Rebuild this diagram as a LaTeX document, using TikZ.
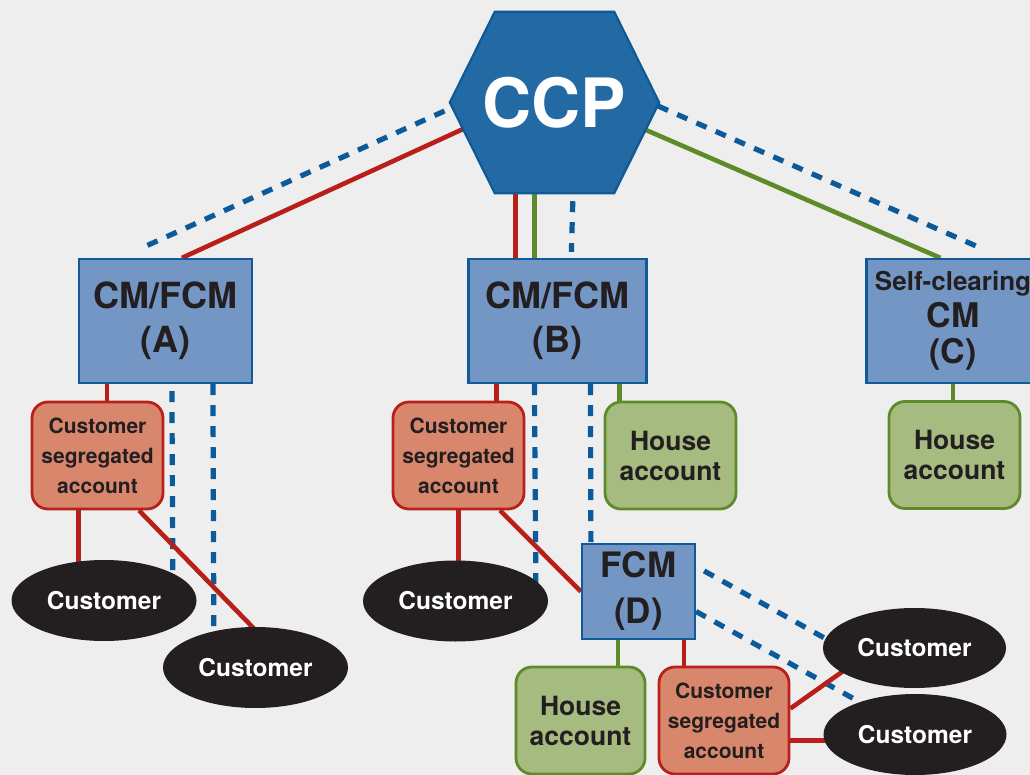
\documentclass[tikz,border=0pt]{standalone}
\usepackage{fontspec}
\setmainfont{TeX Gyre Heros}
\usetikzlibrary{calc,shapes.geometric}
\pgfdeclarelayer{bg}
\pgfdeclarelayer{lines}
\pgfdeclarelayer{shapes}
\pgfsetlayers{bg,lines,shapes,main}
\definecolor{bgc}{HTML}{EEEEEE}
\definecolor{hexfill}{HTML}{2369A4}
\definecolor{hexborder}{HTML}{0D5A96}
\definecolor{boxfill}{HTML}{7396C4}
\definecolor{boxborder}{HTML}{105A99}
\definecolor{segfill}{HTML}{D9876C}
\definecolor{segborder}{HTML}{B8211B}
\definecolor{housefill}{HTML}{A6BB80}
\definecolor{houseborder}{HTML}{5E8B2A}
\definecolor{ink}{HTML}{231F20}
\definecolor{redc}{HTML}{B81F1A}
\definecolor{greenc}{HTML}{5E8B2A}
\definecolor{bluec}{HTML}{0D5A9A}
\tikzset{
  box/.style={draw=boxborder, fill=boxfill, line width=2.2pt, inner sep=0pt, align=center, text=ink,
    font=\bfseries\fontsize{36}{44}\selectfont},
  seg/.style={draw=segborder, fill=segfill, line width=2.8pt, rounded corners=16pt,
    minimum width=131pt, minimum height=107pt, inner sep=0pt, align=center, text=ink,
    font=\bfseries\fontsize{21}{30}\selectfont},
  house/.style={draw=houseborder, fill=housefill, line width=2.8pt, rounded corners=16pt,
    minimum width=131pt, minimum height=107pt, inner sep=0pt, align=center, text=ink,
    font=\bfseries\fontsize{26.5}{30}\selectfont},
  cust/.style={ellipse, fill=ink, text=white, minimum width=185pt, minimum height=81pt,
    inner sep=0pt, font=\bfseries\fontsize{24.5}{28}\selectfont},
  hexshape/.style={fill=hexfill, draw=hexborder, line width=2.2pt, line join=miter},
  redline/.style={draw=redc, line width=4.6pt},
  greenline/.style={draw=greenc, line width=4.6pt},
  dashline/.style={draw=bluec, line width=5.2pt, dash pattern=on 11pt off 10pt},
}
\begin{document}
\begin{tikzpicture}[x=1pt,y=-1pt]
\useasboundingbox (0,0) rectangle (1030,775);
\begin{pgfonlayer}{bg}
\fill[bgc] (0,0) rectangle (1030,775);
\end{pgfonlayer}

% nodes
\node[text=white, font=\bfseries\fontsize{68}{70}\selectfont, minimum width=209pt, minimum height=181pt, inner sep=0pt] (ccp) at (554.5,102.5) {CCP};
\node[box, minimum width=173pt, minimum height=124pt] (A) at (165.5,321) {CM/FCM\\(A)};
\node[box, minimum width=178pt, minimum height=124pt] (B) at (557.5,321) {CM/FCM\\(B)};
\node[box, minimum width=173pt, minimum height=124pt, font=\bfseries\fontsize{34}{36}\selectfont] (C) at (953,321) {{\fontsize{26}{36}\selectfont Self-clearing}\\[1pt]CM\\(C)};
\node[box, minimum width=113pt, minimum height=95pt, font=\bfseries\fontsize{35}{46}\selectfont] (D) at (638.5,591.5) {FCM\\(D)};

\node[seg] (segA) at (97.5,455.5) {Customer\\segregated\\account};
\node[seg] (segB) at (458.5,455.5) {Customer\\segregated\\account};
\node[seg, minimum width=130pt] (segD) at (724,720.5) {Customer\\segregated\\account};

\node[house] (houseB) at (670.5,455.5) {House\\account};
\node[house] (houseC) at (954.5,455) {House\\account};
\node[house, minimum width=129pt] (houseD) at (580.5,720.5) {House\\account};

\node[cust] (custA1) at (104,600.5) {Customer};
\node[cust] (custA2) at (255.5,667.5) {Customer};
\node[cust] (custB) at (455.5,601) {Customer};
\node[cust, minimum width=183pt, minimum height=80pt] (custD1) at (914.5,648) {Customer};
\node[cust, minimum width=183pt] (custD2) at (915,734.5) {Customer};

% hexagon
\begin{pgfonlayer}{shapes}
\draw[hexshape] (ccp.west) -- ($(ccp.north west)+(45,0)$) -- ($(ccp.north east)+(-45,0)$)
  -- (ccp.east) -- ($(ccp.south east)+(-45,0)$) -- ($(ccp.south west)+(45,0)$) -- cycle;
\end{pgfonlayer}

% connectors
\begin{pgfonlayer}{lines}
% dashed (blue)
\draw[dashline] ($(ccp.center)+(-110,8.5)$) -- ($(A.north west)+(64,-10)$);
\draw[dashline] ($(ccp.south west)+(123,8)$) -- ($(B.north west)+(104,-6)$);
\draw[dashline] ($(ccp.center)+(103.5,3.5)$) -- ($(C.north west)+(115,-10)$);
\draw[dashline] ($(A.south west)+(94,7)$) -- ($(custA1.center)+(69,0)$);
\draw[dashline] ($(A.south west)+(135,0)$) -- ($(custA2.center)+(-41.5,0)$);
\draw[dashline] ($(B.south west)+(67,0)$) -- ($(custB.center)+(80.5,0)$);
\draw[dashline] ($(B.south west)+(123,0)$) -- ($(D.north west)+(10,0)$);
\draw[dashline] ($(D.north east)+(8,28)$) -- ($(custD1.west)+(7,-7)$);
\draw[dashline] ($(D.east)+(0,20)$) -- ($(custD2.center)+(-40,-24)$);
% solid
\draw[redline] ($(ccp.center)+(-63,13.5)$) -- ($(A.north west)+(104,0)$);
\draw[redline] ($(B.north west)+(48,2)$) -- ++(0,-80);
\draw[greenline] ($(B.north west)+(67,2)$) -- ++(0,-80);
\draw[greenline] ($(ccp.center)+(65,16)$) -- ($(C.north west)+(75,0)$);
\draw[redline] ($(A.south west)+(29,-2)$) -- ++(0,22);
\draw[redline] ($(segA.south west)+(48,-2)$) -- ++(0,62);
\draw[redline] ($(segA.south)+(41.5,0)$) -- ($(custA2.north)+(4.5,8)$);
\draw[redline] ($(B.south west)+(29,-2)$) -- ++(0,22);
\draw[greenline] ($(B.south west)+(152,-2)$) -- ++(0,22);
\draw[redline] (segB.south) -- ++(0,62);
\draw[redline] ($(segB.south)+(41.5,0)$) -- (D.west);
\draw[greenline] ($(C.south)+(0,-2)$) -- ++(0,22);
\draw[greenline] ($(D.south west)+(37,-2)$) -- ++(0,32);
\draw[redline] ($(D.south west)+(103,-2)$) -- ++(0,32);
\draw[redline] ($(segD.east)+(0,-12)$) -- ($(custD1.center)+(-60,15)$);
\draw[redline] ($(segD.east)+(0,20)$) -- ($(custD2.center)+(-60,6)$);
\end{pgfonlayer}
\end{tikzpicture}
\end{document}
